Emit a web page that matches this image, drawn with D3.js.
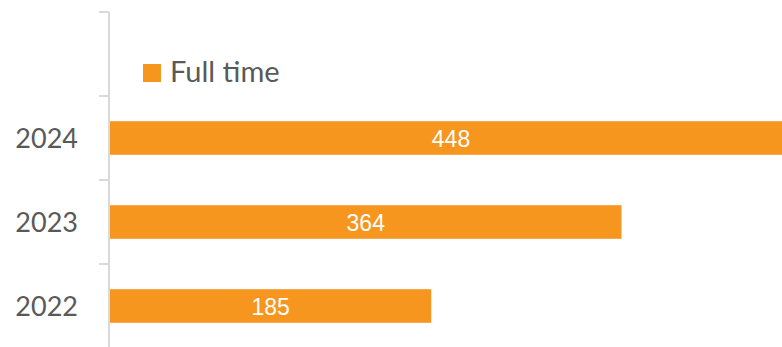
<!DOCTYPE html>
<html>
<head>
<meta charset="utf-8">
<script src="https://cdn.jsdelivr.net/npm/d3@7"></script>
<style>
  html, body { margin: 0; padding: 0; background: #fff; }
  svg { display: block; }
</style>
</head>
<body>
<svg id="chart" width="782" height="347"></svg>
<script>
// ---- data ----
const years = ["2024", "2023", "2022"];
const fullTimeLabels = [448, 364, 185];      // data labels shown on the bars
const fullTimeBars = [448, 336, 211];        // bar lengths as drawn in the reference
const seriesName = "Full time";

// ---- setup ----
const W = 782, H = 347;
const svg = d3.select("#chart");
const orange = "#F7961E";
const textColor = "#595959";
const axisColor = "#d9d9d9";

const x = d3.scaleLinear().domain([0, 448]).range([110, 792]);
const y = d3.scaleBand().domain(years).range([96, 348]).paddingInner(0.6).paddingOuter(0.3);

// axis line
const step = y.step();
const bandStart = d => y(d) - y.paddingOuter() * step;
svg.append("line")
  .attr("x1", 109).attr("x2", 109)
  .attr("y1", bandStart(years[0]) - step).attr("y2", H + 2)
  .attr("stroke", axisColor).attr("stroke-width", 2);

// tick marks at category boundaries
const boundaries = [bandStart(years[0]) - step].concat(years.map(bandStart));
svg.selectAll(".tick-b").data(boundaries).enter().append("line")
  .attr("x1", 99).attr("x2", 109)
  .attr("y1", d => d).attr("y2", d => d)
  .attr("stroke", axisColor).attr("stroke-width", 2);

// category labels
const yAxis = d3.axisLeft(y).tickSize(0).tickPadding(0);
const gy = svg.append("g").attr("transform", "translate(78,0)").call(yAxis);
gy.select(".domain").remove();
gy.selectAll("text")
  .attr("font-family", "Lato, 'Open Sans', sans-serif")
  .attr("font-size", 27)
  .attr("fill", textColor)
  .attr("dy", null)
  .attr("y", 10)
  .attr("text-anchor", "end");

// bars
const data = years.map((yr, i) => ({ yr, v: fullTimeBars[i], label: fullTimeLabels[i] }));
svg.selectAll(".bar").data(data).enter().append("rect")
  .attr("x", x(0))
  .attr("y", d => y(d.yr))
  .attr("width", d => x(d.v) - x(0))
  .attr("height", y.bandwidth())
  .attr("fill", orange);

// value labels
svg.selectAll(".val").data(data).enter().append("text")
  .attr("x", d => (x(0) + x(d.v)) / 2)
  .attr("y", d => y(d.yr) + y.bandwidth() / 2 + 9)
  .attr("text-anchor", "middle")
  .attr("font-family", "'Liberation Sans', Arial, sans-serif")
  .attr("font-size", 23)
  .attr("fill", "#ffffff")
  .text(d => d.label);

// legend
const lg = svg.append("g").attr("transform", "translate(143,64)");
lg.append("rect").attr("width", 18).attr("height", 18).attr("fill", orange);
lg.append("text")
  .attr("x", 27).attr("y", 18)
  .attr("font-family", "Lato, 'Open Sans', sans-serif")
  .attr("font-size", 29)
  .attr("fill", textColor)
  .text(seriesName);
</script>
</body>
</html>
